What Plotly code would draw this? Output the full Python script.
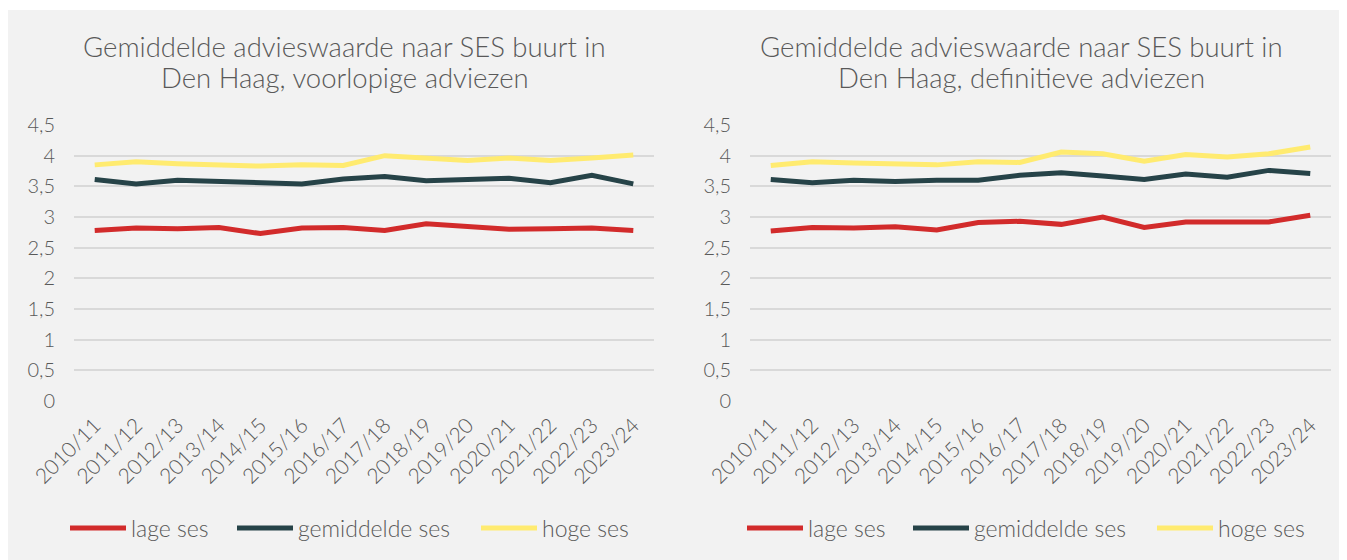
import plotly.graph_objects as go

categories = ["2010/11", "2011/12", "2012/13", "2013/14", "2014/15", "2015/16", "2016/17",
              "2017/18", "2018/19", "2019/20", "2020/21", "2021/22", "2022/23", "2023/24"]

# Voorlopige adviezen
voorl_lage = [2.78, 2.82, 2.81, 2.83, 2.73, 2.82, 2.83, 2.78, 2.89, 2.84, 2.80, 2.81, 2.82, 2.78]
voorl_gem = [3.61, 3.54, 3.60, 3.58, 3.56, 3.54, 3.62, 3.66, 3.59, 3.62, 3.63, 3.56, 3.68, 3.54]
voorl_hoge = [3.85, 3.90, 3.87, 3.86, 3.83, 3.85, 3.84, 4.00, 3.96, 3.92, 3.96, 3.92, 3.96, 4.01]

# Definitieve adviezen
def_lage = [2.77, 2.83, 2.82, 2.84, 2.79, 2.91, 2.93, 2.88, 3.00, 2.83, 2.92, 2.92, 2.92, 3.03]
def_gem = [3.61, 3.56, 3.60, 3.58, 3.60, 3.60, 3.68, 3.72, 3.67, 3.61, 3.70, 3.65, 3.76, 3.71]
def_hoge = [3.84, 3.90, 3.88, 3.86, 3.85, 3.90, 3.89, 4.06, 4.03, 3.91, 4.02, 3.98, 4.03, 4.14]

series_names = ["lage ses", "gemiddelde ses", "hoge ses"]
series_colors = ["#D22B2B", "#264348", "#FFEB70"]

y_ticks = [0, 0.5, 1, 1.5, 2, 2.5, 3, 3.5, 4, 4.5]

title_lines = [["Gemiddelde advieswaarde naar SES buurt in", "Den Haag, voorlopige adviezen"],
               ["Gemiddelde advieswaarde naar SES buurt in", "Den Haag, definitieve adviezen"]]

W, H = 1347, 560
OFF = 8  # page body margin
FONT = "Lato"
TXT = "#595959"
WEIGHT = 300


def px(x):
    return (x - OFF) / W


def py(y):
    return (H - (y - OFF)) / H


# legend line start positions (page px) for each chart
legend_x = [[70, 237, 481], [747, 913, 1157]]
LEG_Y = 528

fig = go.Figure()

legend_layouts = {}
k = 0
for c, (xa, ya, data) in enumerate([("x", "y", [voorl_lage, voorl_gem, voorl_hoge]),
                                      ("x2", "y2", [def_lage, def_gem, def_hoge])]):
    for s, (name, col, vals) in enumerate(zip(series_names, series_colors, data)):
        k += 1
        lname = "legend" if k == 1 else f"legend{k}"
        fig.add_trace(go.Scatter(x=categories, y=vals, name=name, mode="lines",
                                 line=dict(color=col, width=5), xaxis=xa, yaxis=ya,
                                 legend=lname))
        legend_layouts[lname] = dict(
            orientation="h", x=px(legend_x[c][s] - 5), xanchor="left",
            y=py(LEG_Y), yanchor="middle",
            font=dict(family=FONT, size=23, color=TXT, weight=WEIGHT),
            bgcolor="rgba(0,0,0,0)", itemwidth=56, borderwidth=0)


def xax(x0, x1, anchor):
    return dict(domain=[px(x0), px(x1)], anchor=anchor, type="category", tickangle=-45,
                showgrid=False, showline=False, zeroline=False, ticks="", automargin=False,
                tickfont=dict(family=FONT, size=21, color=TXT, weight=WEIGHT), ticklabelstandoff=7,
                range=[-0.5, len(categories) - 0.5], fixedrange=True)


def yax(anchor):
    return dict(domain=[py(401), py(125)], anchor=anchor, range=[0, 4.5],
                tickvals=y_ticks, showgrid=True, gridcolor="#D9D9D9", gridwidth=1.5,
                zeroline=False, showline=False, ticks="", automargin=False,
                tickfont=dict(family=FONT, size=20, color=TXT, weight=WEIGHT), ticklabelstandoff=18)


annotations = []
for cx, lines in zip([345, 1022], title_lines):
    for ly, text in zip([47, 77], lines):
        annotations.append(dict(text=text, xref="paper", yref="paper", x=px(cx), y=py(ly),
                                xanchor="center", yanchor="middle", showarrow=False,
                                font=dict(family=FONT, size=27.5, color=TXT, weight=WEIGHT)))

fig.update_layout(
    template="none",
    width=W, height=H, autosize=False,
    margin=dict(l=0, r=0, t=0, b=0, pad=0),
    paper_bgcolor="white", plot_bgcolor="white",
    separators=",.",
    showlegend=True,
    font=dict(family=FONT, color=TXT),
    xaxis=xax(74, 654, "y"),
    yaxis=yax("x"),
    xaxis2=xax(750, 1331, "y2"),
    yaxis2=yax("x2"),
    shapes=[dict(type="rect", xref="paper", yref="paper", x0=px(5), x1=px(1340),
                 y0=0, y1=py(10), fillcolor="#F2F2F2", line=dict(width=0), layer="below")],
    annotations=annotations,
    **legend_layouts,
)

fig.write_html("out.html")
